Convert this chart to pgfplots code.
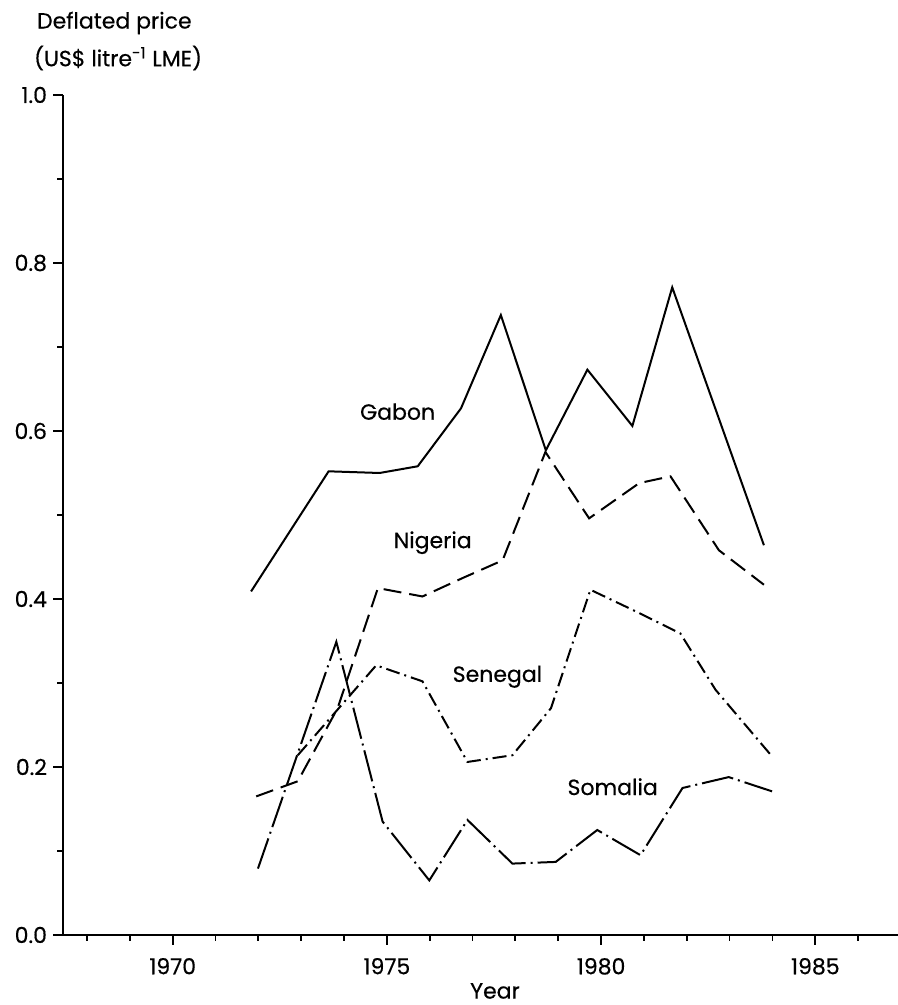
\documentclass[border=0pt]{standalone}
\usepackage{fontspec}
\setmainfont{Poppins}[FakeBold=0.4]
\usepackage{pgfplots}
\pgfplotsset{compat=1.18}

\begin{document}
\begin{tikzpicture}
\begin{axis}[
  at={(0,0)}, anchor=south west,
  scale only axis, width=417.5pt, height=420pt,
  xmin=1967.44, xmax=1986.93, ymin=0, ymax=1,
  axis x line=bottom, axis y line=left,
  axis line style={-, line width=0.9pt},
  tick align=outside,
  xtick={1970,1975,1980,1985}, xticklabels={1970,1975,1980,1985},
  minor xtick={1968,...,1986},
  ytick={0,0.2,0.4,0.6,0.8,1.0}, yticklabels={0.0,0.2,0.4,0.6,0.8,1.0},
  minor ytick={0.1,0.3,0.5,0.7,0.9},
  major tick length=5pt, minor tick length=3pt,
  tick style={line width=0.9pt, black},
  xticklabel style={yshift=-3pt},
  yticklabel style={xshift=0.5pt},
  clip=false,
  font=\fontsize{11}{13}\selectfont,
]
% Gabon
\addplot[black, line width=1pt] coordinates {
(1971.83,0.409) (1973.64,0.552) (1974.83,0.550) (1975.72,0.558) (1976.73,0.627)
(1977.66,0.738) (1978.71,0.577) (1979.68,0.673) (1980.73,0.606) (1981.66,0.771)
(1983.80,0.464)};
% Nigeria
\addplot[black, line width=1pt, dash pattern=on 9pt off 4pt] coordinates {
(1971.95,0.165) (1972.92,0.183) (1973.85,0.270) (1974.79,0.413) (1975.83,0.403)
(1976.77,0.425) (1977.70,0.446) (1978.70,0.575) (1979.72,0.496) (1980.89,0.538)
(1981.62,0.546) (1982.75,0.458) (1983.80,0.417)};
% Senegal
\addplot[black, line width=1pt, dash pattern=on 7pt off 2.5pt on 1pt off 2.5pt] coordinates {
(1972.92,0.214) (1974.75,0.321) (1975.83,0.302) (1976.88,0.206) (1977.93,0.214)
(1978.83,0.270) (1979.75,0.411) (1980.82,0.385) (1981.85,0.359) (1982.67,0.292)
(1984.00,0.212)};
% Somalia
\addplot[black, line width=1pt, dash pattern=on 16pt off 2.5pt on 1pt off 2.5pt] coordinates {
(1971.99,0.079) (1973.82,0.349) (1974.90,0.135) (1975.99,0.065) (1976.88,0.137)
(1977.93,0.085) (1978.94,0.087) (1979.91,0.125) (1980.92,0.095) (1981.90,0.175)
(1982.98,0.188) (1983.99,0.171)};

\node at (axis cs:1975.25,0.623) {Gabon};
\node at (axis cs:1976.07,0.467) {Nigeria};
\node at (axis cs:1977.58,0.3075) {Senegal};
\node at (axis cs:1980.27,0.1765) {Somalia};

\node[anchor=west, xshift=-16.5pt, yshift=36pt] at (rel axis cs:0,1) {Deflated price};
\node[anchor=west, xshift=-18pt, yshift=18.5pt] at (rel axis cs:0,1) {(US\$ litre\textsuperscript{-1} LME)};
\node[xshift=216pt, yshift=-28pt] at (rel axis cs:0,0) {Year};
\end{axis}
\pgfresetboundingbox
\useasboundingbox (-31.5pt,-35pt) rectangle (417.5pt,467.5pt);
\end{tikzpicture}
\end{document}
